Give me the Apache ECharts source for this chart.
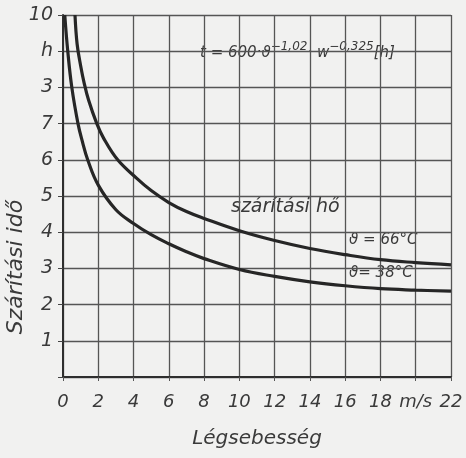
<!DOCTYPE html>
<html>
<head>
<meta charset="utf-8">
<script src="https://cdn.jsdelivr.net/npm/echarts@6/dist/echarts.min.js"></script>
<style>
  html, body { margin: 0; padding: 0; background: #f1f1f0; }
  #main { width: 466px; height: 458px; }
</style>
</head>
<body>
<div id="main"></div>
<script>
var speed66 = [0.68, 0.8, 1.0, 1.2, 1.45, 1.9, 2.3, 3.1, 4.2, 5, 6, 7, 8, 10, 12, 14, 16, 18, 20, 22];
var time66 = [10, 9.2, 8.6, 8.12, 7.65, 7.02, 6.6, 6, 5.48, 5.15, 4.82, 4.57, 4.38, 4.04, 3.77, 3.55, 3.38, 3.24, 3.16, 3.1];
var speed38 = [0.1, 0.27, 0.5, 0.85, 1.1, 1.4, 2, 3, 4, 5, 6, 7, 8, 10, 12, 14, 16, 18, 20, 22];
var time38 = [10, 9, 8, 7, 6.5, 6, 5.3, 4.62, 4.24, 3.93, 3.68, 3.46, 3.27, 2.97, 2.78, 2.63, 2.52, 2.44, 2.4, 2.37];
var yLabels = ['', '1', '2', '3', '4', '5', '6', '7', '3', 'h', '10'];
var xLabels = ['0', '2', '4', '6', '8', '10', '12', '14', '16', '18', 'm/s', '22'];

function pairs(xs, ys) {
    return xs.map(function (x, i) { return [x, ys[i]]; });
}

var chart = echarts.init(document.getElementById('main'));

var font = 'DejaVu Sans';
var ink = '#3a3a3a';
var paper = '#f1f1f0';

var option = {
    backgroundColor: paper,
    animation: false,
    grid: {
        left: 63,
        top: 15,
        right: 15,
        bottom: 81,
        outerBoundsMode: 'none'
    },
    xAxis: {
        type: 'value',
        min: 0,
        max: 22,
        interval: 2,
        name: 'Légsebesség',
        nameLocation: 'middle',
        nameGap: 52,
        nameTextStyle: { fontFamily: font, fontStyle: 'italic', fontSize: 20, color: ink },
        axisLine: { lineStyle: { color: '#2e2e2e', width: 2 } },
        axisTick: { show: true, length: 4, lineStyle: { color: '#555' } },
        axisLabel: {
            margin: 16,
            fontFamily: font, fontStyle: 'italic', fontSize: 18, color: ink,
            formatter: function (v) { return xLabels[Math.round(v / 2)]; }
        },
        splitLine: { show: true, lineStyle: { color: '#555', width: 1.3 } }
    },
    yAxis: {
        type: 'value',
        min: 0,
        max: 10,
        interval: 1,
        name: 'Szárítási idő',
        nameLocation: 'middle',
        nameRotate: 90,
        nameGap: 36,
        nameMoveOverlap: false,
        nameTextStyle: {
            fontFamily: font, fontStyle: 'italic', fontSize: 22, color: ink,
            padding: [0, 142, 0, 0]
        },
        axisLine: { show: true, lineStyle: { color: '#2e2e2e', width: 2 } },
        axisTick: { show: true, length: 5, lineStyle: { color: '#444' } },
        axisLabel: {
            margin: 10,
            fontFamily: font, fontStyle: 'italic', fontSize: 19, color: ink,
            formatter: function (v) { return yLabels[Math.round(v)]; }
        },
        splitLine: { show: true, lineStyle: { color: '#555', width: 1.3 } }
    },
    graphic: [
        {
            type: 'text',
            left: 200,
            top: 41,
            style: {
                text: '{b|t = 600·ϑ}{s|−1,02}{b|· w}{s|−0,325}{b|[h]}',
                backgroundColor: paper,
                rich: {
                    b: { fontFamily: font, fontStyle: 'italic', fontSize: 15, fill: ink, verticalAlign: 'bottom' },
                    s: { fontFamily: font, fontStyle: 'italic', fontSize: 12, fill: ink, padding: [0, 0, 8, 0], verticalAlign: 'top' }
                }
            }
        },
        {
            type: 'text',
            left: 231,
            top: 198,
            style: {
                text: 'szárítási hő',
                fontFamily: font, fontStyle: 'italic', fontSize: 19, fill: ink,
                backgroundColor: paper
            }
        },
        {
            type: 'text',
            left: 349,
            top: 233,
            style: {
                text: 'ϑ = 66°C',
                fontFamily: font, fontStyle: 'italic', fontSize: 15, fill: ink,
                backgroundColor: paper
            }
        },
        {
            type: 'text',
            left: 349,
            top: 266,
            style: {
                text: 'ϑ= 38°C',
                fontFamily: font, fontStyle: 'italic', fontSize: 15, fill: ink,
                backgroundColor: paper
            }
        }
    ],
    series: [
        {
            name: 'ϑ = 66°C',
            type: 'line',
            data: pairs(speed66, time66),
            smooth: 0.4,
            showSymbol: false,
            lineStyle: { color: '#262626', width: 3.2 },
            z: 5
        },
        {
            name: 'ϑ = 38°C',
            type: 'line',
            data: pairs(speed38, time38),
            smooth: 0.4,
            showSymbol: false,
            lineStyle: { color: '#262626', width: 3.2 },
            z: 5
        }
    ]
};

option && chart.setOption(option);
</script>
</body>
</html>
